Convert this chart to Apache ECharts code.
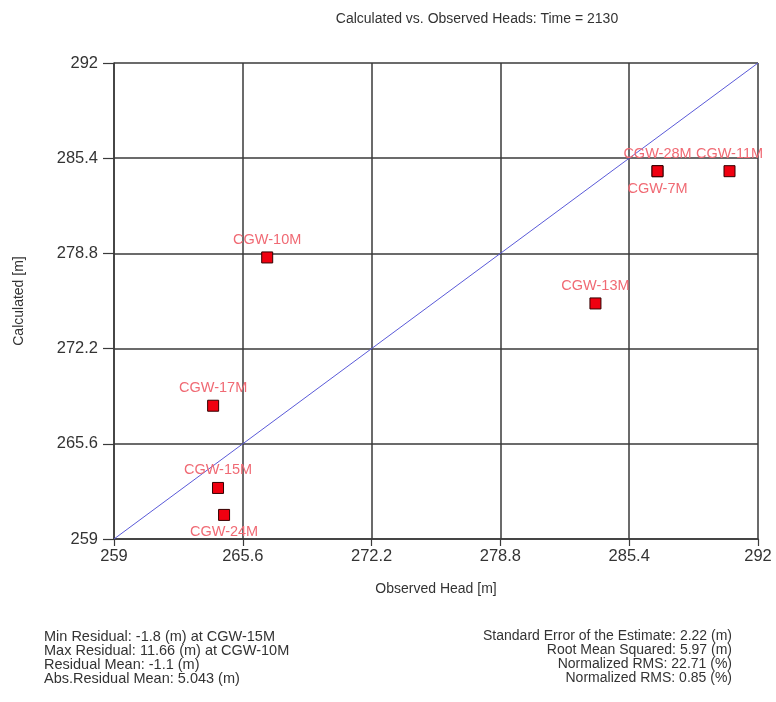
<!DOCTYPE html>
<html>
<head>
<meta charset="utf-8">
<script src="https://cdn.jsdelivr.net/npm/echarts@6/dist/echarts.min.js"></script>
<style>
body{margin:0;background:#fff;}
#main{width:776px;height:702px;}
</style>
</head>
<body>
<div id="main"></div>
<script>
// wells, observed and calculated heads
var wells = ['CGW-10M','CGW-17M','CGW-15M','CGW-24M','CGW-13M','CGW-28M','CGW-7M','CGW-11M'];
var observed = [266.85, 264.08, 264.33, 264.64, 283.67, 286.85, 286.85, 290.54];
var calculated = [278.52, 268.24, 262.54, 260.67, 275.33, 284.5, 284.5, 284.5];
var labelPos = ['top','top','top','bottom','top','top','bottom','top'];
var lineEnds = [259, 292];

var statsLeft = ['Min Residual: -1.8 (m) at CGW-15M','Max Residual: 11.66 (m) at CGW-10M','Residual Mean: -1.1 (m)','Abs.Residual Mean: 5.043 (m)'];
var statsRight = ['Standard Error of the Estimate: 2.22 (m)','Root Mean Squared: 5.97 (m)','Normalized RMS: 22.71 (%)','Normalized RMS: 0.85 (%)'];

var font = 'Liberation Sans';
var pts = [];
for (var i = 0; i < wells.length; i++) {
	pts.push({
		value: [observed[i], calculated[i]],
		name: wells[i],
		label: {position: labelPos[i]}
	});
}

var myChart = echarts.init(document.getElementById('main'));
var axisCommon = {
	type: 'value',
	min: 259,
	max: 292,
	interval: 6.6,
	nameLocation: 'middle',
	nameTextStyle: {fontFamily: font, fontSize: 14, color: '#333'},
	axisLine: {show: true, lineStyle: {color: '#3a3a3a', width: 1.5}},
	axisTick: {show: true, length: 7, lineStyle: {color: '#3a3a3a', width: 1.2}},
	axisLabel: {fontFamily: font, fontSize: 16.5, color: '#333'},
	splitLine: {show: true, lineStyle: {color: '#3a3a3a', width: 1.5}}
};

// stats text, one element per line
var gfx = [];
for (var j = 0; j < statsLeft.length; j++) {
	gfx.push({type: 'text', left: 44, top: 629 + j * 14.2,
		style: {text: statsLeft[j], font: '14.5px "Liberation Sans"', fill: '#333'}});
	gfx.push({type: 'text', right: 44, top: 629 + j * 14.2,
		style: {text: statsRight[j], font: '14px "Liberation Sans"', fill: '#333'}});
}

myChart.setOption({
	backgroundColor: '#fff',
	animation: false,
	title: {
		text: 'Calculated vs. Observed Heads: Time = 2130',
		left: 472, top: 7, textAlign: 'center',
		textStyle: {fontFamily: font, fontSize: 14, fontWeight: 'normal', color: '#333'}
	},
	grid: {left: 114, right: 18, top: 63, bottom: 163, outerBoundsMode: 'none'},
	xAxis: echarts.util.merge({
		name: 'Observed Head [m]', nameGap: 43,
		axisLabel: {margin: 9}
	}, axisCommon),
	yAxis: echarts.util.merge({
		name: 'Calculated [m]', nameGap: 88, nameRotate: 90,
		axisLabel: {margin: 16},
		axisTick: {length: 11}
	}, axisCommon),
	series: [{
		type: 'line',
		data: [[lineEnds[0], lineEnds[0]], [lineEnds[1], lineEnds[1]]],
		showSymbol: false,
		lineStyle: {color: '#5a5ad8', width: 1},
		z: 3
	}, {
		type: 'scatter',
		data: pts,
		symbol: 'rect',
		symbolSize: 11,
		itemStyle: {color: '#f00010', borderColor: '#300', borderWidth: 1, opacity: 1},
		label: {
			show: true,
			formatter: '{b}',
			distance: 4,
			fontFamily: font,
			fontSize: 14.5,
			color: '#f06a74'
		},
		z: 5
	}],
	graphic: gfx
});
</script>
</body>
</html>
